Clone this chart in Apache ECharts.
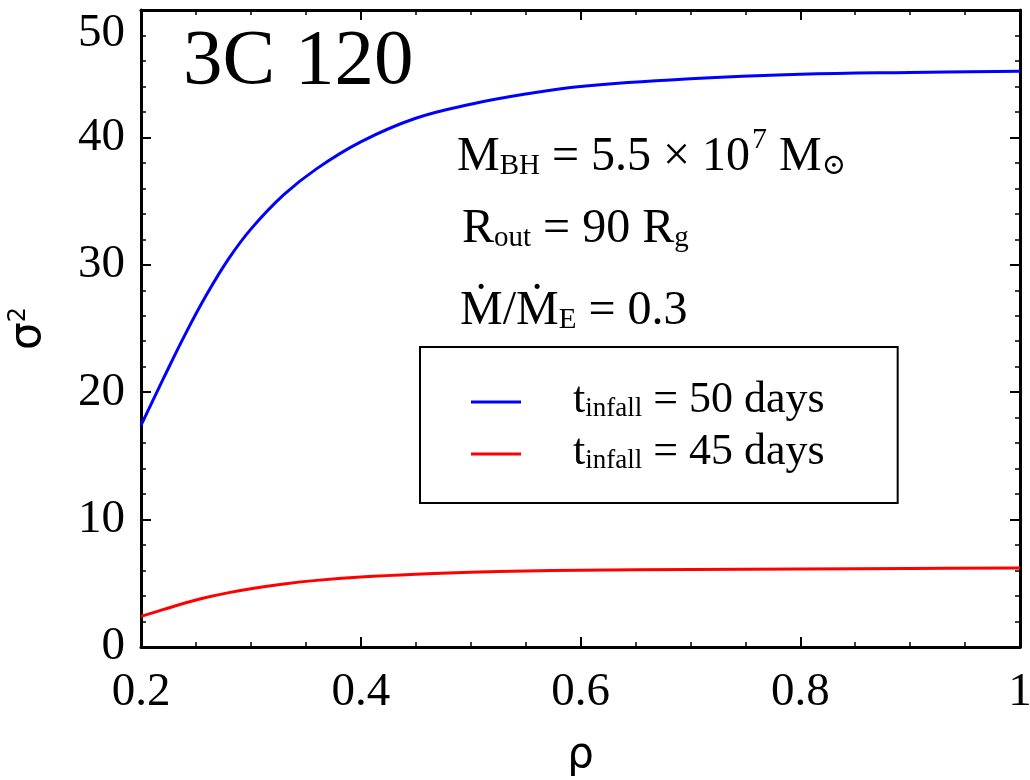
<!DOCTYPE html>
<html><head><meta charset="utf-8">
<script src="https://cdn.jsdelivr.net/npm/echarts@6/dist/echarts.min.js"></script>
<style>html,body{margin:0;padding:0;background:#fff}#c{width:1030px;height:780px}</style>
</head><body><div id="c"></div>
<script>
// ---- data ----
const rho       = [0.20, 0.22, 0.24, 0.26, 0.28, 0.30, 0.33, 0.36, 0.40, 0.45, 0.50, 0.55, 0.60, 0.70, 0.80, 0.90, 1.00];
const sigma2_50 = [17.4, 21.0, 24.5, 27.7, 30.5, 32.8, 35.5, 37.55, 39.65, 41.5, 42.6, 43.4, 44.0, 44.6, 44.95, 45.1, 45.2];
const sigma2_45 = [2.4, 2.93, 3.45, 3.9, 4.27, 4.58, 4.95, 5.23, 5.49, 5.71, 5.86, 5.96, 6.02, 6.08, 6.12, 6.16, 6.2];
const seriesNames = ['t_infall = 50 days', 't_infall = 45 days'];
const legendDays  = ['50', '45'];
const seriesColors = ['#0000ff', '#ff0000'];
const xRange = [0.2, 1.0], xStep = 0.2;
const yRange = [0, 50], yStep = 10;

const SERIF = '"Liberation Serif", "DejaVu Serif", serif';
const SANS = '"DejaVu Sans", sans-serif';
const chart = echarts.init(document.getElementById('c'), null, {renderer: 'canvas'});

// text measuring helper (for placing the superscript next to rich text)
const mctx = document.createElement('canvas').getContext('2d');
function tw(str, size) { mctx.font = size + 'px ' + SERIF; return mctx.measureText(str).width; }

function axisCommon(showLabel) {
  return {
    axisLine: {show: true, onZero: false, lineStyle: {color: '#000', width: 3}},
    axisTick: {show: true, inside: true, length: 10, lineStyle: {color: '#000', width: 2}},
    minorTick: {show: true, length: 5, lineStyle: {color: '#000', width: 1.5}},
    splitLine: {show: false}, minorSplitLine: {show: false},
    axisLabel: {show: showLabel, color: '#000', fontFamily: SERIF, fontSize: 47}
  };
}
function xAx(pos, showLabel) {
  const a = axisCommon(showLabel);
  a.type = 'value'; a.position = pos; a.min = xRange[0]; a.max = xRange[1]; a.interval = xStep;
  a.minorTick.splitNumber = 4;
  a.axisLabel.margin = 22;
  if (showLabel) {
    a.name = 'ρ'; a.nameLocation = 'middle'; a.nameGap = 88;
    a.nameTextStyle = {fontFamily: SANS, fontSize: 42, color: '#000'};
  }
  return a;
}
function yAx(pos, showLabel) {
  const a = axisCommon(showLabel);
  a.type = 'value'; a.position = pos; a.min = yRange[0]; a.max = yRange[1]; a.interval = yStep;
  a.minorTick.splitNumber = 5;
  a.axisLabel.margin = 16;
  a.axisLabel.verticalAlignMaxLabel = 'top';
  if (showLabel) {
    a.name = '{a|σ}{b|2}'; a.nameLocation = 'middle'; a.nameGap = 90;
    a.nameTextStyle = {rich: {
      a: {fontFamily: SANS, fontSize: 44, color: '#000', verticalAlign: 'bottom', lineHeight: 44},
      b: {fontFamily: SANS, fontSize: 24, color: '#000', verticalAlign: 'top', lineHeight: 22}
    }};
  }
  return a;
}

const FM = 48, FS = 29;
const M = {fontFamily: SERIF, fontSize: FM, fill: '#000', verticalAlign: 'bottom', lineHeight: 46};
const S = {fontFamily: SERIF, fontSize: FS, fill: '#000', verticalAlign: 'bottom', lineHeight: 20};
const annRich = {m: M, s: S};

// line 1 pieces
const l1x = 457, l1top = 133;
const partA = ' = 5.5 × 10';
const wA = tw('M', FM) + tw('BH', FS) + tw(partA, FM);
const w7 = tw('7', 30);

const option = {
  animation: false,
  backgroundColor: '#fff',
  grid: {left: 141, right: 10, top: 10, bottom: 133, containLabel: false, outerBoundsMode: 'none'},
  xAxis: [xAx('bottom', true), xAx('top', false)],
  yAxis: [yAx('left', true), yAx('right', false)],
  legend: {
    orient: 'vertical', left: 420, top: 347,
    icon: 'rect', itemWidth: 50, itemHeight: 3, itemGap: 8,
    padding: [31, 73, 29, 51],
    borderColor: '#000', borderWidth: 2, borderRadius: 0,
    data: seriesNames,
    formatter: function (name) {
      const d = legendDays[seriesNames.indexOf(name)];
      return '{sp| }{t|t}{s|infall}{n| = ' + d + ' days}';
    },
    textStyle: {rich: {
      sp: {width: 47, fontSize: 44, fontFamily: SERIF, lineHeight: 40, verticalAlign: 'bottom'},
      t: {fontFamily: SERIF, fontSize: 44, color: '#000', lineHeight: 40, verticalAlign: 'bottom'},
      s: {fontFamily: SERIF, fontSize: 27, color: '#000', lineHeight: 17, verticalAlign: 'bottom'},
      n: {fontFamily: SERIF, fontSize: 44, color: '#000', lineHeight: 40, verticalAlign: 'bottom'}
    }}
  },
  series: seriesNames.map((nm, k) => ({
    name: nm, type: 'line', xAxisIndex: 0, yAxisIndex: 0,
    data: rho.map((r, i) => [r, (k === 0 ? sigma2_50 : sigma2_45)[i]]),
    smooth: 0.4, showSymbol: false, symbol: 'none',
    lineStyle: {color: seriesColors[k], width: 3},
    itemStyle: {color: seriesColors[k]}
  })),
  graphic: [
    {type: 'text', left: 183, top: 23, style: {text: '3C 120', font: '79px ' + SERIF, fill: '#000'}},
    {type: 'text', left: l1x, top: l1top, style: {text: '{m|M}{s|BH}{m|' + partA + '}', rich: annRich}},
    {type: 'text', left: l1x + wA + 2, top: l1top - 8, style: {text: '7', font: '30px ' + SERIF, fill: '#000', lineHeight: 30}},
    {type: 'text', left: l1x + wA + w7 + 2, top: l1top, style: {text: '{m| M}{s|⊙}', rich: annRich}},
    {type: 'text', left: 462, top: 205, style: {text: '{m|R}{s|out}{m| = 90 R}{s|g}', rich: annRich}},
    {type: 'text', left: 460, top: 287, style: {text: '{m|Ṁ/Ṁ}{s|E}{m| = 0.3}', rich: annRich}}
  ]
};
chart.setOption(option);
</script></body></html>
